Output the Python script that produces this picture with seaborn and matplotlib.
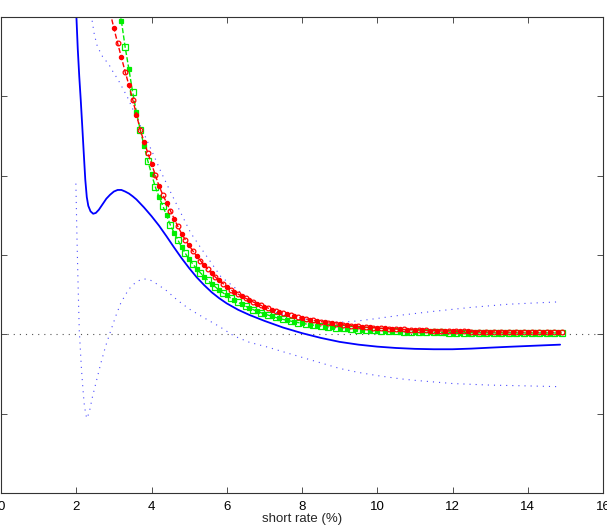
import numpy as np
import seaborn as sns
import matplotlib.pyplot as plt

# solid blue curve (estimate)
est_x = [2.00, 2.04, 2.08, 2.12, 2.16, 2.20, 2.24, 2.28, 2.32, 2.38, 2.45, 2.52, 2.60, 2.70,
         2.80, 2.90, 3.00, 3.10, 3.20, 3.30, 3.40, 3.50, 3.60, 3.70, 3.80, 3.90, 4.00, 4.20,
         4.40, 4.60, 4.80, 5.00, 5.20, 5.40, 5.60, 5.80, 6.00, 6.30, 6.60, 7.00, 7.50, 8.00,
         8.50, 9.00, 9.50, 10.0, 10.5, 11.0, 11.5, 12.0, 12.5, 13.0, 13.5, 14.0, 14.5, 14.86]
est_y = [4.05, 3.60, 3.25, 2.95, 2.62, 2.28, 1.95, 1.73, 1.62, 1.55, 1.52, 1.53, 1.57, 1.64,
         1.71, 1.76, 1.80, 1.82, 1.82, 1.80, 1.775, 1.74, 1.70, 1.65, 1.60, 1.545, 1.49, 1.37,
         1.235, 1.095, 0.96, 0.835, 0.72, 0.62, 0.53, 0.455, 0.39, 0.31, 0.245, 0.17, 0.085, 0.015,
         -0.045, -0.095, -0.13, -0.155, -0.172, -0.183, -0.188, -0.188, -0.18, -0.168, -0.157, -0.147, -0.137, -0.13]

# dotted blue bands
upper_x = [2.33, 2.41, 2.48, 2.56, 2.70, 2.87, 3.00, 3.10, 3.36, 3.71, 4.00, 4.25, 4.51, 4.78,
           5.04, 5.31, 5.84, 6.63, 7.20, 7.80, 8.50, 9.00, 9.50, 10.0, 10.6, 11.5, 12.5, 13.5, 14.86]
upper_y = [4.10, 3.99, 3.78, 3.63, 3.50, 3.40, 3.29, 3.22, 2.99, 2.62, 2.32, 2.05, 1.79, 1.53,
           1.28, 1.09, 0.73, 0.43, 0.29, 0.21, 0.16, 0.15, 0.17, 0.20, 0.24, 0.29, 0.34, 0.38, 0.41]
lower_x = [1.99, 2.02, 2.05, 2.08, 2.11, 2.14, 2.18, 2.21, 2.25, 2.28, 2.31, 2.36, 2.43, 2.54,
           2.65, 2.78, 2.92, 3.05, 3.18, 3.32, 3.45, 3.62, 3.80, 3.98, 4.16, 4.40, 4.69, 5.00,
           5.39, 5.80, 6.19, 6.60, 7.08, 7.50, 8.00, 8.50, 9.00, 9.50, 10.0, 10.6, 11.0, 12.0,
           13.0, 14.0, 14.86]
lower_y = [1.90, 1.20, 0.60, 0.05, -0.20, -0.45, -0.70, -0.87, -1.00, -1.06, -1.03, -0.95, -0.79, -0.58,
           -0.37, -0.15, 0.05, 0.23, 0.39, 0.51, 0.60, 0.67, 0.70, 0.68, 0.63, 0.55, 0.43, 0.32,
           0.21, 0.10, -0.02, -0.10, -0.16, -0.22, -0.29, -0.36, -0.43, -0.48, -0.52, -0.56, -0.58, -0.62,
           -0.64, -0.65, -0.66]

# red series, rate 2.9 .. 14.9 in steps of 0.1
red_y = [4.06, 3.86, 3.67, 3.49, 3.31, 3.14, 2.96, 2.77, 2.58, 2.43, 2.29, 2.15, 2.01, 1.87,
         1.76, 1.66, 1.56, 1.46, 1.36, 1.27, 1.19, 1.12, 1.05, 0.99, 0.93, 0.87, 0.82, 0.77,
         0.72, 0.68, 0.64, 0.60, 0.565,
         0.535, 0.507, 0.48, 0.455, 0.431, 0.408, 0.387, 0.367, 0.348,
         0.33, 0.313, 0.297, 0.281, 0.267, 0.253, 0.241, 0.228, 0.217, 0.206,
         0.196, 0.186, 0.177, 0.169, 0.16, 0.153, 0.145, 0.138, 0.132, 0.126,
         0.12, 0.114, 0.109, 0.104, 0.10, 0.095, 0.091, 0.087, 0.083, 0.08,
         0.077, 0.074, 0.071, 0.068, 0.066, 0.063, 0.061, 0.059, 0.057, 0.055,
         0.053, 0.051, 0.049, 0.048, 0.046, 0.045, 0.043, 0.042, 0.041, 0.040,
         0.039, 0.038, 0.037, 0.036, 0.035, 0.034, 0.033, 0.033, 0.032, 0.031,
         0.031, 0.030, 0.030, 0.029, 0.029, 0.028, 0.028, 0.027, 0.027, 0.026,
         0.026, 0.026, 0.025, 0.025, 0.025, 0.024, 0.024, 0.024, 0.024]

# green series, rate 3.1 .. 14.9 in steps of 0.1
green_y = [4.25, 3.95, 3.62, 3.34, 3.05, 2.80, 2.58, 2.38, 2.19, 2.02, 1.86, 1.73, 1.62, 1.50,
           1.38, 1.28, 1.19, 1.10, 1.02, 0.945,
           0.885, 0.828, 0.775, 0.726, 0.68, 0.636, 0.596, 0.558, 0.523, 0.49,
           0.459, 0.43, 0.403, 0.378, 0.354, 0.332, 0.312, 0.292, 0.274, 0.257,
           0.242, 0.227, 0.213, 0.20, 0.188, 0.177, 0.167, 0.157, 0.148, 0.139,
           0.131, 0.123, 0.116, 0.11, 0.104, 0.098, 0.092, 0.087, 0.083, 0.078,
           0.074, 0.07, 0.067, 0.063, 0.06, 0.057, 0.054, 0.052, 0.05, 0.047,
           0.045, 0.043, 0.041, 0.039, 0.037, 0.035, 0.034, 0.032, 0.031, 0.030,
           0.029, 0.028, 0.027, 0.026, 0.025, 0.024, 0.024, 0.023, 0.023, 0.022,
           0.022, 0.021, 0.021, 0.020, 0.020, 0.020, 0.019, 0.019, 0.019, 0.019,
           0.018, 0.018, 0.018, 0.018, 0.018, 0.018, 0.017, 0.017, 0.017, 0.017,
           0.017, 0.017, 0.017, 0.017, 0.017, 0.017, 0.017, 0.017, 0.017]

red_x = np.round(2.9 + 0.1 * np.arange(len(red_y)), 1)
green_x = np.round(3.1 + 0.1 * np.arange(len(green_y)), 1)
red_y = np.array(red_y)
green_y = np.array(green_y)

sns.set_style("white")
plt.rcParams['font.family'] = ['Liberation Sans', 'DejaVu Sans']

fig = plt.figure(figsize=(6.07, 5.29), dpi=100)
ax = fig.add_axes([1 / 607, 1 - 493 / 529, 602 / 607, 476 / 529])

dots = (0, (1, 4.5))
ax.plot([0, 16], [0, 0], color="#555555", lw=0.8, ls=dots)

sns.lineplot(x=upper_x, y=upper_y, ax=ax, color="#4a4aff", lw=0.8, ls=dots, sort=False, estimator=None)
sns.lineplot(x=lower_x, y=lower_y, ax=ax, color="#4a4aff", lw=0.8, ls=dots, sort=False, estimator=None)
sns.lineplot(x=est_x, y=est_y, ax=ax, color="#0000ff", lw=1.3, sort=False, estimator=None)

# green: dashed with alternating open/filled squares
sns.lineplot(x=green_x, y=green_y, ax=ax, color="#00ee00", lw=1.0, ls="--", sort=False, estimator=None)
sns.lineplot(x=green_x[::2], y=green_y[::2], ax=ax, color="#00ee00", ls="none", marker="s",
             markersize=3.7, mfc="none", mec="#00ee00", mew=0.9, sort=False, estimator=None)
sns.lineplot(x=green_x[1::2], y=green_y[1::2], ax=ax, color="#00ee00", ls="none", marker="s",
             markersize=3.3, mfc="#00ee00", mec="#00ee00", mew=0.9, sort=False, estimator=None)

# red: dashed with alternating open/filled circles
sns.lineplot(x=red_x, y=red_y, ax=ax, color="#ff0000", lw=1.0, ls="--", sort=False, estimator=None)
sns.lineplot(x=red_x[::2], y=red_y[::2], ax=ax, color="#ff0000", ls="none", marker="o",
             markersize=3.4, mfc="none", mec="#ff0000", mew=0.9, sort=False, estimator=None)
sns.lineplot(x=red_x[1::2], y=red_y[1::2], ax=ax, color="#ff0000", ls="none", marker="o",
             markersize=3.0, mfc="#ff0000", mec="#ff0000", mew=0.9, sort=False, estimator=None)

ax.set_xlim(0, 16)
ax.set_ylim(-2, 4)
ax.set_xticks(range(0, 17, 2))
ax.set_yticks(range(-2, 5))
ax.set_yticklabels([])
ax.tick_params(direction="in", length=4.5, width=0.6, top=True, right=True, bottom=True, left=True,
               labelsize=9.5, pad=6, colors="#333333", labelcolor="black")
for s in ax.spines.values():
    s.set_linewidth(0.8)
    s.set_color("#333333")
ax.set_xlabel("short rate (%)", fontsize=9.5, labelpad=0)
ax.set_ylabel("")

fig.savefig("out.png", dpi=100)
